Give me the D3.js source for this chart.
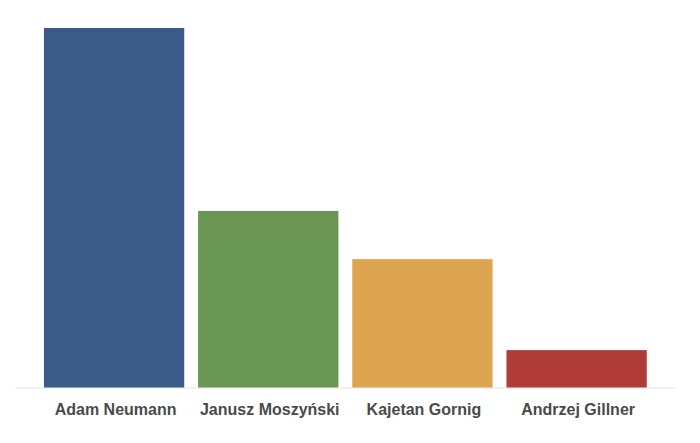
<!DOCTYPE html>
<html>
<head>
<meta charset="utf-8">
<script src="https://cdn.jsdelivr.net/npm/d3@7"></script>
<style>
  html, body { margin: 0; padding: 0; background: #fff; }
  svg { display: block; }
</style>
</head>
<body>
<div id="chart"></div>
<script>
const names = ["Adam Neumann", "Janusz Moszyński", "Kajetan Gornig", "Andrzej Gillner"];
const values = [100, 49.1, 35.7, 10.4];
const colors = ["#3a5a88", "#6a9653", "#dea551", "#b03b38"];

const width = 700, height = 443;
const baseY = 387.5, topY = 28;

const svg = d3.select("#chart").append("svg")
    .attr("width", width)
    .attr("height", height);

const x = d3.scaleBand()
    .domain(names)
    .range([37, 653.7])
    .paddingInner(0.09)
    .paddingOuter(0.045);

const y = d3.scaleLinear()
    .domain([0, d3.max(values)])
    .range([baseY, topY]);

const data = names.map((n, i) => ({ name: n, value: values[i], color: colors[i] }));

// baseline
svg.append("line")
    .attr("x1", 15).attr("x2", 675)
    .attr("y1", baseY + 0.5).attr("y2", baseY + 0.5)
    .attr("stroke", "#e4e4e4")
    .attr("stroke-width", 1.2);

svg.selectAll("rect.bar")
    .data(data)
  .enter().append("rect")
    .attr("class", "bar")
    .attr("x", d => x(d.name))
    .attr("width", x.bandwidth())
    .attr("y", d => y(d.value))
    .attr("height", d => baseY - y(d.value))
    .attr("fill", d => d.color);

svg.selectAll("text.label")
    .data(data)
  .enter().append("text")
    .attr("class", "label")
    .attr("x", d => x(d.name) + x.bandwidth() / 2 + 1.5)
    .attr("y", 414.5)
    .attr("text-anchor", "middle")
    .style("font-family", "'Liberation Sans', Arial, Helvetica, sans-serif")
    .style("font-weight", "bold")
    .style("font-size", "16px")
    .style("fill", "#4a4a4a")
    .text(d => d.name);
</script>
</body>
</html>
